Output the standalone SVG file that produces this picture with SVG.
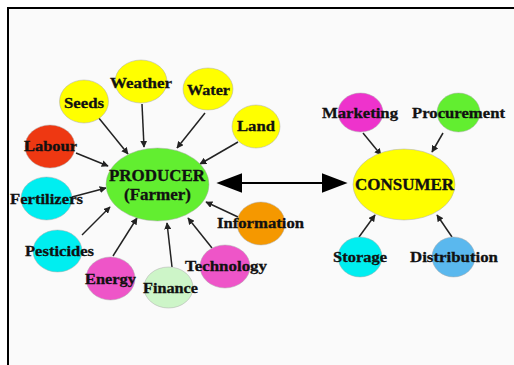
<svg xmlns="http://www.w3.org/2000/svg" width="514" height="365" viewBox="0 0 514 365">
  <style>
    .bg { fill: #fafafa; }
    .frame { stroke: #000; stroke-width: 2; fill: none; }
    .node ellipse { stroke: #aaa; stroke-width: 0.5; }
    .lbl { font-family: "Liberation Serif", "Times New Roman", serif; font-weight: bold; font-size: 15px; fill: #111; stroke: #111; stroke-width: 0.3; text-anchor: middle; }
    .big { font-size: 16px; }
    .edge { stroke: #222; stroke-width: 1.5; fill: none; marker-end: url(#tip); }
    .yellow { fill: #ffff00; }
    .green { fill: #62ee30; }
    .red { fill: #ee3812; }
    .cyan { fill: #00eef0; }
    .pink { fill: #ee55c8; }
    .mint { fill: #cdf5c8; }
    .orange { fill: #f59800; }
    .blue { fill: #5ab8ee; }
  </style>
  <defs>
    <marker id="tip" viewBox="0 0 10 10" refX="9" refY="5" markerWidth="7" markerHeight="7" markerUnits="userSpaceOnUse" orient="auto">
      <path d="M0,0 L10,5 L0,10 Z" fill="#222"/>
    </marker>
    <marker id="bigTip" viewBox="0 0 10 10" refX="9" refY="5" markerWidth="26" markerHeight="20" markerUnits="userSpaceOnUse" orient="auto-start-reverse" preserveAspectRatio="none">
      <path d="M0,0 L10,5 L0,10 Z" fill="#000"/>
    </marker>
  </defs>

  <!-- page and frame -->
  <rect x="0" y="0" width="514" height="365" fill="#fff"/>
  <rect class="bg" x="9" y="9" width="505" height="356"/>
  <path class="frame" d="M8,365 V8 H514"/>

  <!-- connectors -->
  <g id="connectors">
    <line class="edge" x1="98" y1="117" x2="128" y2="154"/>
    <line class="edge" x1="142" y1="104" x2="144" y2="147"/>
    <line class="edge" x1="205" y1="113" x2="177" y2="148"/>
    <line class="edge" x1="238" y1="142" x2="200" y2="164"/>
    <line class="edge" x1="76" y1="153" x2="108" y2="166"/>
    <line class="edge" x1="72" y1="197" x2="106" y2="188"/>
    <line class="edge" x1="82" y1="235" x2="110" y2="207"/>
    <line class="edge" x1="113" y1="256" x2="137" y2="218"/>
    <line class="edge" x1="172" y1="267" x2="167" y2="223"/>
    <line class="edge" x1="212" y1="248" x2="188" y2="218"/>
    <line class="edge" x1="238" y1="217" x2="206" y2="202"/>
    <line class="edge" x1="363" y1="133" x2="381" y2="155"/>
    <line class="edge" x1="443" y1="133" x2="432" y2="152"/>
    <line class="edge" x1="359" y1="237" x2="375" y2="215"/>
    <line class="edge" x1="452" y1="237" x2="437" y2="215"/>
    <line x1="219" y1="183" x2="345" y2="183" stroke="#000" stroke-width="2" marker-start="url(#bigTip)" marker-end="url(#bigTip)"/>
  </g>

  <!-- producer side -->
  <g id="producer" class="node">
    <ellipse class="green" cx="157.5" cy="184.5" rx="51.5" ry="36.5"/>
    <text class="lbl big" x="157" y="181" textLength="96" lengthAdjust="spacingAndGlyphs">PRODUCER</text>
    <text class="lbl big" x="157.5" y="200" textLength="67" lengthAdjust="spacingAndGlyphs">(Farmer)</text>
  </g>
  <g id="weather" class="node">
    <ellipse class="yellow" cx="141" cy="81.5" rx="26" ry="21.5"/>
    <text class="lbl" x="141" y="88" textLength="62" lengthAdjust="spacingAndGlyphs">Weather</text>
  </g>
  <g id="seeds" class="node">
    <ellipse class="yellow" cx="84" cy="101.5" rx="24.5" ry="21.5"/>
    <text class="lbl" x="84" y="108" textLength="40" lengthAdjust="spacingAndGlyphs">Seeds</text>
  </g>
  <g id="water" class="node">
    <ellipse class="yellow" cx="208" cy="89" rx="25" ry="21"/>
    <text class="lbl" x="208.5" y="95" textLength="43" lengthAdjust="spacingAndGlyphs">Water</text>
  </g>
  <g id="land" class="node">
    <ellipse class="yellow" cx="256" cy="126.5" rx="24" ry="21.5"/>
    <text class="lbl" x="256" y="131" textLength="38" lengthAdjust="spacingAndGlyphs">Land</text>
  </g>
  <g id="labour" class="node">
    <ellipse class="red" cx="50" cy="146.5" rx="25" ry="21.5"/>
    <text class="lbl" x="50.5" y="151" textLength="53" lengthAdjust="spacingAndGlyphs">Labour</text>
  </g>
  <g id="fertilizers" class="node">
    <ellipse class="cyan" cx="46.5" cy="198.5" rx="25.5" ry="21.5"/>
    <text class="lbl" x="46.5" y="204" textLength="73" lengthAdjust="spacingAndGlyphs">Fertilizers</text>
  </g>
  <g id="pesticides" class="node">
    <ellipse class="cyan" cx="57.5" cy="251" rx="24.5" ry="21"/>
    <text class="lbl" x="59.5" y="256" textLength="69" lengthAdjust="spacingAndGlyphs">Pesticides</text>
  </g>
  <g id="energy" class="node">
    <ellipse class="pink" cx="110.5" cy="278.5" rx="24.5" ry="21.5"/>
    <text class="lbl" x="110.5" y="284" textLength="51" lengthAdjust="spacingAndGlyphs">Energy</text>
  </g>
  <g id="finance" class="node">
    <ellipse class="mint" cx="168.5" cy="287.5" rx="24.5" ry="20.5"/>
    <text class="lbl" x="170.5" y="293" textLength="55" lengthAdjust="spacingAndGlyphs">Finance</text>
  </g>
  <g id="technology" class="node">
    <ellipse class="pink" cx="225" cy="266.5" rx="25" ry="21.5"/>
    <text class="lbl" x="226" y="271" textLength="82" lengthAdjust="spacingAndGlyphs">Technology</text>
  </g>
  <g id="information" class="node">
    <ellipse class="orange" cx="261" cy="223.5" rx="24" ry="21.5"/>
    <text class="lbl" x="260.5" y="228" textLength="87" lengthAdjust="spacingAndGlyphs">Information</text>
  </g>

  <!-- consumer side -->
  <g id="consumer" class="node">
    <ellipse class="yellow" cx="404" cy="184.5" rx="51" ry="35.5"/>
    <text class="lbl big" x="404.5" y="190" textLength="99" lengthAdjust="spacingAndGlyphs">CONSUMER</text>
  </g>
  <g id="marketing" class="node">
    <ellipse class="pink" cx="360.5" cy="112.5" rx="22.5" ry="19.5" style="fill:#ee33cc"/>
    <text class="lbl" x="360" y="118" textLength="76" lengthAdjust="spacingAndGlyphs">Marketing</text>
  </g>
  <g id="procurement" class="node">
    <ellipse class="green" cx="458.5" cy="112.5" rx="21.5" ry="19.5"/>
    <text class="lbl" x="458.5" y="118" textLength="93" lengthAdjust="spacingAndGlyphs">Procurement</text>
  </g>
  <g id="storage" class="node">
    <ellipse class="cyan" cx="360" cy="257" rx="22" ry="20"/>
    <text class="lbl" x="360" y="262" textLength="54" lengthAdjust="spacingAndGlyphs">Storage</text>
  </g>
  <g id="distribution" class="node">
    <ellipse class="blue" cx="453.5" cy="257" rx="21.5" ry="20"/>
    <text class="lbl" x="454" y="262" textLength="88" lengthAdjust="spacingAndGlyphs">Distribution</text>
  </g>
</svg>
